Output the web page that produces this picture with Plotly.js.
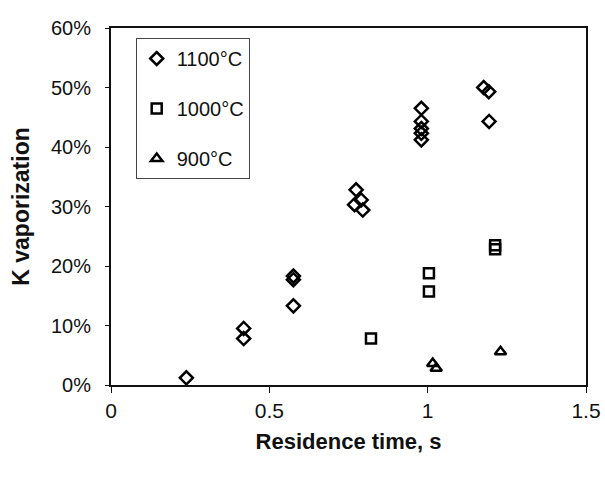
<!DOCTYPE html>
<html>
<head>
<meta charset="utf-8">
<script src="https://cdn.plot.ly/plotly-3.0.1.min.js"></script>
<style>html,body{margin:0;padding:0;background:#fff}#chart{width:605px;height:483px}</style>
</head>
<body>
<div id="chart"></div>
<script>
const seriesNames = ["1100°C", "1000°C", "900°C"];
const x1100 = [0.238, 0.419, 0.419, 0.576, 0.576, 0.576, 0.774, 0.790, 0.769, 0.795, 0.980, 0.980, 0.980, 0.980, 0.980, 1.177, 1.193, 1.194];
const y1100 = [1.2, 9.5, 7.8, 18.3, 17.7, 13.3, 32.8, 31.1, 30.3, 29.4, 46.5, 44.3, 43.1, 42.3, 41.2, 50.0, 49.3, 44.3];
const x1000 = [0.821, 1.004, 1.004, 1.213, 1.213];
const y1000 = [7.8, 18.8, 15.7, 23.5, 22.8];
const x900 = [1.016, 1.027, 1.230];
const y900 = [3.6, 2.8, 5.6];
const yTickVals = [0, 10, 20, 30, 40, 50, 60];
const yTickText = ["0%", "10%", "20%", "30%", "40%", "50%", "60%"];
const xTickVals = [0, 0.5, 1, 1.5];
const xTickText = ["0", "0.5", "1", "1.5"];

const font = "Liberation Sans, Arial, sans-serif";
function mk(x, y, name, symbol, size, grp) {
  return {type: "scatter", mode: "markers", x: x, y: y, name: name, legendgroup: grp,
    marker: {symbol: symbol, size: size, color: "#000", line: {color: "#000", width: 2.5}}};
}
const data = [
  mk(x1100, y1100, seriesNames[0], "diamond-open", 10, "a"),
  mk(x1000, y1000, seriesNames[1], "square-open", 10, "b"),
  mk(x900, y900, seriesNames[2], "triangle-up-open", 10, "c")
];
const layout = {
  width: 605, height: 483,
  margin: {l: 111, r: 19, t: 28, b: 98},
  paper_bgcolor: "#fff", plot_bgcolor: "#fff",
  font: {family: font, size: 20, color: "#111"},
  showlegend: true,
  legend: {x: 0.052, y: 0.972, xanchor: "left", yanchor: "top",
    bordercolor: "#444", borderwidth: 1, bgcolor: "#fff",
    traceorder: "grouped", tracegroupgap: 21, itemwidth: 30,
    font: {family: font, size: 20, color: "#111"}},
  xaxis: {range: [0, 1.5], tickvals: xTickVals, ticktext: xTickText,
    showgrid: false, zeroline: false, showline: true, linecolor: "#111", linewidth: 2,
    mirror: true, ticks: "outside", ticklen: 6, tickcolor: "#111", tickwidth: 1,
    tickfont: {family: font, size: 21},
    title: {text: "<b>Residence time, s</b>", font: {family: font, size: 22}, standoff: 12}},
  yaxis: {range: [0, 60], tickvals: yTickVals, ticktext: yTickText,
    showgrid: false, zeroline: false, showline: true, linecolor: "#111", linewidth: 2,
    mirror: true, ticks: "outside", ticklen: 4, tickcolor: "#111", tickwidth: 1,
    ticklabelstandoff: 10,
    tickfont: {family: font, size: 20},
    title: {text: "<b>K vaporization</b>", font: {family: font, size: 23}, standoff: 15}}
};
Plotly.newPlot("chart", data, layout, {displayModeBar: false, staticPlot: true});
</script>
</body>
</html>
